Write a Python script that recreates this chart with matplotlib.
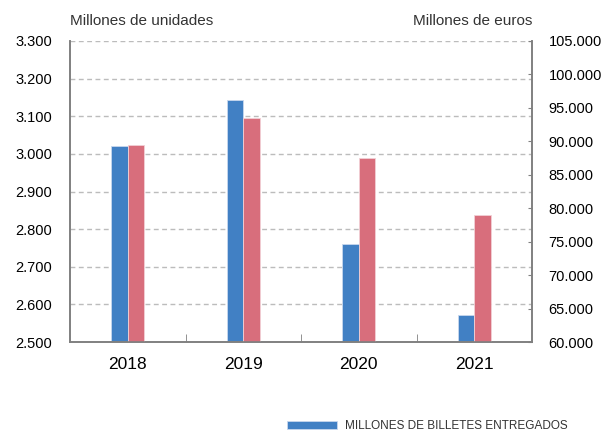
import numpy as np
import matplotlib
matplotlib.use('Agg')
import matplotlib.pyplot as plt
from matplotlib import font_manager
from matplotlib.ticker import FuncFormatter, FixedLocator

plt.rcParams['font.family'] = ['Liberation Sans', 'DejaVu Sans']

years = ['2018', '2019', '2020', '2021']
billetes_unidades = [3021, 3142, 2760, 2571]      # millones de unidades (eje izq.)
billetes_euros = [89450, 93450, 87500, 79000]     # millones de euros (eje dcho.)
legend_label = 'MILLONES DE BILLETES ENTREGADOS'

blue = '#4180c4'
pink = '#d86e7c'
axis_grey = '#808080'

def miles(v, pos):
    return f'{int(round(v)):,}'.replace(',', '.')

## condensed font for the legend, if there is one
names = {f.name for f in font_manager.fontManager.ttflist}
narrow = 'Liberation Sans Narrow' in names

fig = plt.figure(figsize=(6.13, 4.32), dpi=100)
ax = fig.add_axes([70/613, 1 - 342/432, 462/613, 301/432])
ax2 = ax.twinx()

x = np.arange(len(years))
w = 0.143
b1 = ax.bar(x - w/2, billetes_unidades, width=w, color=blue, edgecolor='#c8d8ee', linewidth=0.6)
ax2.bar(x + w/2, billetes_euros, width=w, color=pink, edgecolor='#f2d0d5', linewidth=0.6)

## Ejes
ax.set_xlim(-0.5, len(years) - 0.5)
ax.set_ylim(2500, 3300)
ax2.set_ylim(60000, 105000)
ax.set_yticks(np.arange(2500, 3301, 100))
ax2.set_yticks(np.arange(60000, 105001, 5000))
ax.yaxis.set_major_formatter(FuncFormatter(miles))
ax2.yaxis.set_major_formatter(FuncFormatter(miles))

ax.set_xticks(x)
ax.set_xticklabels(years, fontsize=12.5)
ax.xaxis.set_minor_locator(FixedLocator(x[:-1] + 0.5))
ax.tick_params(axis='x', which='major', length=0, pad=11)
ax.tick_params(axis='x', which='minor', direction='in', length=6, color=axis_grey)
ax.tick_params(axis='y', length=0, pad=13, labelsize=10.5)
ax2.tick_params(axis='y', direction='in', length=3, color=axis_grey, pad=12, labelsize=10.5)

ax.set_axisbelow(True)
ax.grid(axis='y', color='#bcbcbc', linestyle=(0, (3.5, 2.5)), linewidth=1)

for a in (ax, ax2):
    a.spines['top'].set_visible(False)
    for s in ('left', 'right', 'bottom'):
        a.spines[s].set_color(axis_grey)
        a.spines[s].set_linewidth(1.2)

## Titulos de ejes
fig.text(70/613, 1 - 21/432, 'Millones de unidades', fontsize=11, color='#333333', ha='left', va='center')
fig.text(532/613, 1 - 21/432, 'Millones de euros', fontsize=11, color='#333333', ha='right', va='center')

## Leyenda
if narrow:
    lprop = {'family': 'Liberation Sans Narrow', 'size': 10.5}
else:
    lprop = {'family': 'Liberation Sans', 'size': 8.5}
fig.legend([b1], [legend_label], loc='center left', bbox_to_anchor=(282/613, 1 - 426/432),
           frameon=False, prop=lprop, handlelength=4.3, handleheight=0.7, handletextpad=0.6,
           labelcolor='#333333', borderaxespad=0)

plt.savefig('out.png', dpi=100)
